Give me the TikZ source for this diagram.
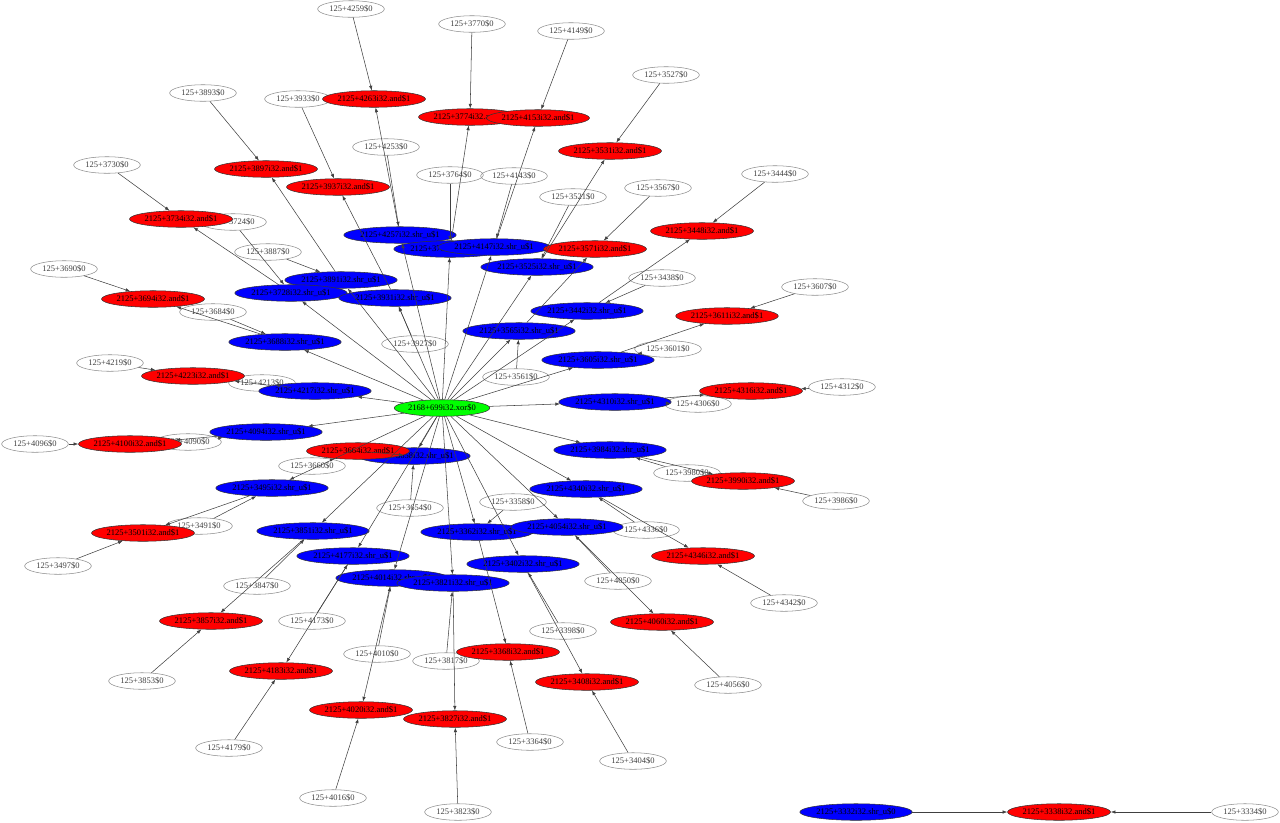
\documentclass[tikz,border=0pt]{standalone}
\usepackage{fontspec}
\setmainfont{Liberation Serif}
\usetikzlibrary{shapes.geometric,arrows.meta}
\begin{document}
\begin{tikzpicture}[x=0.75pt,y=-0.75pt,
  base/.style={ellipse,inner sep=0pt,minimum height=12.4pt,font=\fontsize{6.4}{8}\selectfont},
  cnode/.style={base,draw=black!45,line width=0.4pt,text=black!75,minimum width=50pt},
  anode/.style={base,draw=black!80,line width=0.4pt,fill=red,minimum width=77pt},
  snode/.style={base,draw=black!80,line width=0.4pt,fill=blue,minimum width=82.5pt},
  xnode/.style={base,draw=black!80,line width=0.4pt,fill=green,minimum width=71pt},
  conn/.style={draw=black!75,line width=0.4pt,-{Latex[length=3.5pt,width=2.6pt]}}]
\useasboundingbox (0,0) rectangle (1280,822);
% constants
\foreach \n/\xx/\yy in {4259/351/9, 4253/386/147, 3770/472/24, 3764/450/175, 4149/571/31, 4143/514/176,
  3527/666/75, 3521/573/197, 3893/203/93, 3887/268/252, 3933/298/99, 3927/415/344,
  3730/107/165, 3724/233/222, 3567/658/188, 3561/516/377, 3444/775/174, 3438/662/278,
  3690/64/269, 3684/213/312, 3607/815/287, 3601/668/349, 4219/110/363, 4213/262/383,
  4312/842/387, 4306/698/404, 4096/35/444, 4090/188/442, 3660/312/466, 3654/410/508,
  3986/836/501, 3980/687/473, 3497/58/566, 3491/199/526, 4342/784/603, 4336/646/530,
  3364/530/742, 3358/513/502, 4056/728/685, 4050/618/581, 3853/142/681, 3847/257/586,
  4179/229/748, 4173/312/621, 4016/333/798, 4010/377/654, 3404/633/761, 3398/563/631,
  3823/458/812, 3817/446/661, 3334/1245/812}
  \node[cnode] (c\n) at (\xx,\yy) {125+\n\$0};
% and nodes
\foreach \n/\xx/\yy in {4263/374/99, 3774/470/117, 4153/538/118, 3531/610/151, 3897/266/169,
  3937/338/187, 3734/181/219, 3448/702/231, 3694/153/299, 3611/727/316, 4223/193/376,
  4316/751/391, 4100/130/444, 3990/743/481, 3501/143/533, 4346/703/556, 3368/508/652,
  4060/662/622, 3857/211/621, 4183/281/671, 4020/361/710, 3408/587/682, 3827/455/719,
  3338/1059/812}
  \node[anode] (a\n) at (\xx,\yy) {2125+\n i32.and\$1};
% shr nodes
\foreach \n/\xx/\yy in {4257/400/235, 3768/450/249, 4147/494/247, 3525/537/267, 3891/341/280,
  3728/291/293, 3931/395/298, 3565/519/331, 3442/587/311, 3688/285/342, 3605/598/360,
  4217/315/391, 4310/615/402, 4094/266/432, 3658/414/456, 3984/610/450, 3495/272/488,
  4340/586/489, 3362/477/532, 4054/567/527, 3851/313/531, 4177/353/556, 4014/392/578,
  3402/523/564, 3821/453/583}
  \node[snode] (s\n) at (\xx,\yy) {2125+\n i32.shr\_u\$1};
% red nodes drawn on top of blue neighbours
\node[anode] (a3571) at (595,249) {2125+3571i32.and\$1};
\node[anode] (a3664) at (358,451) {2125+3664i32.and\$1};
\node[snode] (s3332) at (856,812) {2125+3332i32.shr\_u\$0};
\node[xnode] (x) at (442,408) {2168+699i32.xor\$0};
% edges
\foreach \s/\a/\p/\q in {4257/4263/4253/4259, 3768/3774/3764/3770, 4147/4153/4143/4149,
  3525/3531/3521/3527, 3891/3897/3887/3893, 3931/3937/3927/3933, 3728/3734/3724/3730,
  3565/3571/3561/3567, 3442/3448/3438/3444, 3688/3694/3684/3690, 3605/3611/3601/3607,
  4217/4223/4213/4219, 4310/4316/4306/4312, 4094/4100/4090/4096, 3658/3664/3654/3660,
  3984/3990/3980/3986, 3495/3501/3491/3497, 4340/4346/4336/4342, 3362/3368/3358/3364,
  4054/4060/4050/4056, 3851/3857/3847/3853, 4177/4183/4173/4179, 4014/4020/4010/4016,
  3402/3408/3398/3404, 3821/3827/3817/3823}
  {
  \draw[conn] (x) -- (s\s);
  \draw[conn] (c\p) -- (s\s);
  \draw[conn] (s\s) -- (a\a);
  \draw[conn] (c\q) -- (a\a);
  }
\draw[conn] (s3332) -- (a3338);
\draw[conn] (c3334) -- (a3338);
\end{tikzpicture}
\end{document}
